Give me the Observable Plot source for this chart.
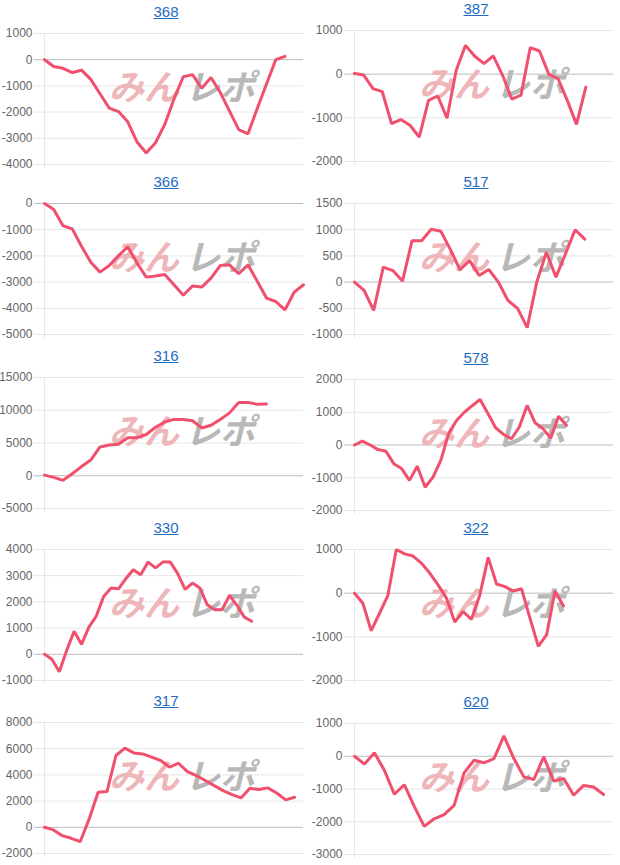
<!DOCTYPE html>
<html>
<head>
<meta charset="utf-8">
<script src="https://cdn.jsdelivr.net/npm/d3@7"></script>
<script src="https://cdn.jsdelivr.net/npm/@observablehq/plot@0.6"></script>
<style>
  html, body { margin: 0; padding: 0; background: #fff; }
  #wrap { position: relative; width: 620px; height: 865px; overflow: hidden; }
  .panel { position: absolute; width: 310px; }
  .title { height: 24px; line-height: 24px; font: 15px "Liberation Sans", Arial, sans-serif; color: #1f6cc0; text-align: center; }
  .title span { text-decoration: underline; }
  .panel svg { display: block; }
</style>
</head>
<body>
<div id="wrap"></div>
<script>
// Panel titles (machine numbers), in reading order
const titles = ["368", "387", "366", "517", "316", "578", "330", "322", "317", "620"];

// Series values
const v368 = [0, -260, -330, -490, -400, -750, -1300, -1850, -1980, -2370, -3140, -3560, -3170, -2470, -1500, -650, -570, -1090, -680, -1250, -1960, -2670, -2830, -1860, -930, 0, 130];
const v387 = [15, -20, -330, -400, -1130, -1040, -1170, -1440, -600, -500, -1010, 90, 660, 410, 240, 420, -20, -570, -480, 610, 530, 0, -100, -600, -1150, -300];
const v366 = [0, -230, -850, -970, -1630, -2240, -2620, -2370, -1990, -1650, -2270, -2810, -2770, -2710, -3100, -3500, -3150, -3190, -2850, -2370, -2340, -2680, -2340, -2970, -3610, -3740, -4060, -3380, -3100];
const v517 = [0, -160, -540, 285, 220, 20, 790, 790, 1010, 970, 620, 235, 410, 125, 240, 0, -350, -500, -870, 0, 570, 95, 540, 1000, 820];
const v316 = [100, -250, -700, 300, 1400, 2400, 4400, 4700, 4800, 5800, 5800, 6300, 7400, 8200, 8600, 8600, 8400, 7300, 7700, 8600, 9600, 11200, 11200, 10900, 10950];
const v578 = [0, 120, 0, -140, -190, -570, -720, -1080, -650, -1290, -980, -470, 350, 750, 1000, 1200, 1390, 960, 520, 320, 190, 550, 1210, 680, 500, 210, 880, 600];
const v330 = [0, -190, -670, 150, 880, 380, 1040, 1460, 2210, 2530, 2500, 2890, 3230, 3040, 3520, 3300, 3520, 3520, 3080, 2480, 2720, 2530, 1890, 1700, 1700, 2250, 1870, 1420, 1260];
const v322 = [0, -230, -860, -460, -50, 1000, 900, 850, 690, 460, 190, -110, -660, -420, -600, -40, 820, 210, 150, 50, 100, -570, -1220, -950, 50, -290];
const v317 = [0, -200, -640, -840, -1100, 640, 2680, 2730, 5480, 6040, 5680, 5600, 5350, 5100, 4590, 4890, 4250, 3950, 3570, 3180, 2800, 2500, 2240, 2980, 2880, 3010, 2620, 2090, 2290];
const v620 = [0, -240, 110, -430, -1160, -870, -1530, -2140, -1910, -1780, -1500, -510, -120, -200, -70, 620, -70, -630, -710, -20, -760, -680, -1190, -890, -940, -1170];

// Y tick labels per panel
const t368 = [1000, 0, -1000, -2000, -3000, -4000];
const t387 = [1000, 0, -1000, -2000];
const t366 = [0, -1000, -2000, -3000, -4000, -5000];
const t517 = [1500, 1000, 500, 0, -500, -1000];
const t316 = [15000, 10000, 5000, 0, -5000];
const t578 = [2000, 1000, 0, -1000, -2000];
const t330 = [4000, 3000, 2000, 1000, 0, -1000];
const t322 = [1000, 0, -1000, -2000];
const t317 = [8000, 6000, 4000, 2000, 0, -2000];
const t620 = [1000, 0, -1000, -2000, -3000];

// Number of x slots on each panel's axis (shared period length)
const slots = [28, 28, 28, 27, 28, 33, 35, 31, 29, 26];

const series = [v368, v387, v366, v517, v316, v578, v330, v322, v317, v620];
const tickSets = [t368, t387, t366, t517, t316, t578, t330, t322, t317, t620];

// layout
const plotTops = [[33, 30], [203, 203], [377, 379], [549, 549], [722, 723]];
const LINE = "#f0506e";
const GRID = "#e6e6e6";
const ZERO = "#bdbdbd";

function panel(values, ticks, span) {
  const data = values.map((v, i) => ({i, v}));
  const lo = d3.min(ticks), hi = d3.max(ticks);
  const rest = ticks.filter(t => t !== 0);
  return Plot.plot({
    width: 310,
    height: 147,
    marginTop: 6,
    marginBottom: 10,
    marginLeft: 44,
    marginRight: 7,
    style: {fontFamily: '"Liberation Sans", Arial, sans-serif', fontSize: "12px", color: "#666", background: "transparent", overflow: "visible"},
    x: {domain: [0, span], axis: null},
    y: {domain: [lo, hi], ticks: ticks, tickFormat: d => String(d), tickSize: 0, tickPadding: 12, label: null},
    marks: [
      Plot.ruleY(rest, {stroke: GRID, insetLeft: -10}),
      Plot.ruleY([0], {stroke: ZERO, insetLeft: -10}),
      Plot.ruleX([0], {stroke: GRID, insetBottom: -4}),
      Plot.text(["みん"], {text: d => d, frameAnchor: "middle", dx: -30, dy: -10, fontSize: 35, fontWeight: "bold", fontStyle: "italic", fontFamily: '"Noto Sans CJK JP", sans-serif', fill: "#eeb6b9"}),
      Plot.text(["レポ"], {text: d => d, frameAnchor: "middle", dx: 46, dy: -10, fontSize: 35, fontWeight: "bold", fontStyle: "italic", fontFamily: '"Noto Sans CJK JP", sans-serif', fill: "#b8b8b8"}),
      Plot.line(data, {x: "i", y: "v", stroke: LINE, strokeWidth: 3, strokeLinejoin: "miter"})
    ]
  });
}

const wrap = document.getElementById("wrap");
titles.forEach((name, k) => {
  const row = Math.floor(k / 2), col = k % 2;
  const div = document.createElement("div");
  div.className = "panel";
  div.style.left = (col * 310) + "px";
  div.style.top = (plotTops[row][col] - 30) + "px";
  const t = document.createElement("div");
  t.className = "title";
  t.style.paddingLeft = "22px";
  const s = document.createElement("span");
  s.textContent = name;
  t.appendChild(s);
  div.appendChild(t);
  div.appendChild(panel(series[k], tickSets[k], slots[k]));
  wrap.appendChild(div);
});
</script>
</body>
</html>
